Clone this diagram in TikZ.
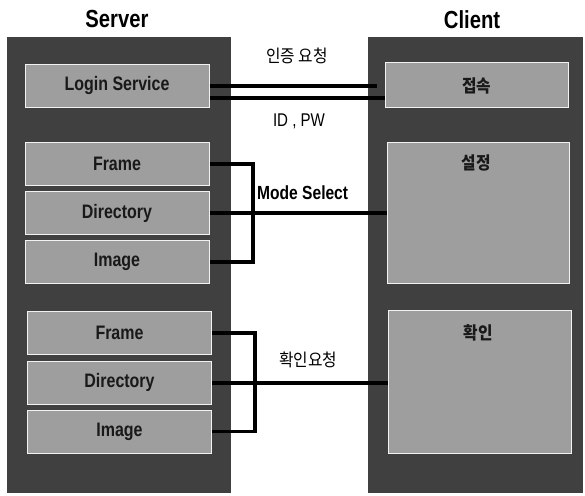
\documentclass[tikz,border=0pt]{standalone}
\usepackage{fontspec}
\setmainfont{Liberation Sans}[FakeStretch=0.82]
\newfontfamily\kr{Noto Sans CJK KR}[FakeStretch=0.9]
\begin{document}
\begin{tikzpicture}[x=1pt,y=1pt,
  panel/.style={fill=black!75,draw=none},
  sbox/.style={draw=white!90!gray,line width=1pt,fill=black!38,inner sep=0pt,
    minimum width=184,minimum height=43,
    font=\fontsize{19.5}{20}\selectfont\bfseries,text=black!90},
  cbox/.style={draw=white!90!gray,line width=1pt,fill=black!38,inner sep=0pt,minimum width=183},
  title/.style={font=\fontsize{24.7}{26}\selectfont\bfseries},
  krlab/.style={font=\kr\fontsize{17.5}{18}\selectfont},
  krbold/.style={font=\kr\fontsize{17.5}{18}\selectfont\bfseries,text=black!90},
  elab/.style={font=\fontsize{18.4}{19}\selectfont},
  conn/.style={line width=4pt},
  brk/.style={line width=3.5pt}]
\useasboundingbox (0,0) rectangle (585,495);
\fill[white] (0,0) rectangle (585,495);
% panels
\fill[panel] (7,2) rectangle (231,458);
\fill[panel] (368,2) rectangle (583,458);
% titles
\node[title] (tserver) at (117,476) {Server};
\node[title] (tclient) at (472,475) {Client};
% server boxes
\node[sbox] (login) at (117,409) {Login Service};
\node[sbox] (frame1) at (117,331) {Frame};
\node[sbox] (dir1) at (117,282) {Directory};
\node[sbox] (img1) at (117,233) {Image};
\node[sbox] (frame2) at (119.5,162) {Frame};
\node[sbox] (dir2) at (119.5,112.5) {Directory};
\node[sbox] (img2) at (119.5,63.5) {Image};
% client boxes
\node[cbox,minimum height=45,krbold] (conn1) at (476.5,409.5) {접속};
\node[cbox,minimum width=182,minimum height=141] (set) at (478,281.5) {};
\node[krbold] (setlab) at (476,332) {설정};
\node[cbox,minimum height=142] (chk) at (479.5,113) {};
\node[krbold] (chklab) at (478,162) {확인};
% connectors
\draw[conn,shorten >=8pt] (login.east) -- (login.east -| conn1.west);
\draw[conn] ([yshift=-12pt]login.east) -- ([yshift=-12pt]login.east -| conn1.west);
\draw[conn] (dir1.east) -- (dir1.east -| set.west);
\draw[conn] (dir2.east) -- (dir2.east -| chk.west);
% brackets
\coordinate (b1) at (253,0);
\coordinate (b2) at (255,0);
\draw[brk] (frame1.east) -- (frame1.east -| b1) -- (img1.east -| b1) -- (img1.east);
\draw[brk] (frame2.east) -- (frame2.east -| b2) -- (img2.east -| b2) -- (img2.east);
% labels
\node[krlab] (l1) at (297,439) {인증 요청};
\node[elab] (l2) at (299,374) {ID , PW};
\node[elab,font=\fontsize{19}{20}\selectfont\bfseries,anchor=west,inner sep=0pt] (l3) at (257,302) {Mode Select};
\node[krlab] (l4) at (308,135) {확인요청};
\end{tikzpicture}
\end{document}
